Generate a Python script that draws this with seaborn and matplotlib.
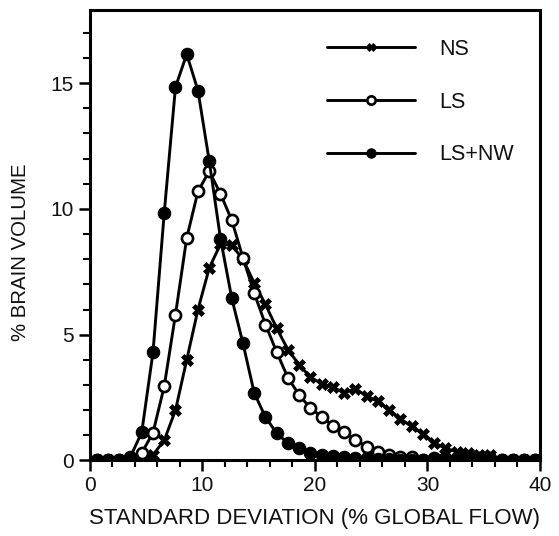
import numpy as np
import pandas as pd
import seaborn as sns
import matplotlib.pyplot as plt
from matplotlib.ticker import MultipleLocator

# bin centres (standard deviation, % global flow)
sd = np.arange(40) + 0.6

ns = [0, 0, 0, 0, 0.05, 0.22, 0.8, 2.0, 4.0, 6.0,
      7.65, 8.6, 8.55, 8.0, 7.05, 6.2, 5.25, 4.4, 3.8, 3.3,
      3.05, 2.9, 2.7, 2.85, 2.55, 2.35, 2.0, 1.65, 1.35, 1.05,
      0.7, 0.48, 0.35, 0.28, 0.22, 0.2, 0, 0, 0, 0]
ls = [0, 0, 0, 0.05, 0.3, 1.1, 2.95, 5.8, 8.85, 10.7,
      11.5, 10.6, 9.55, 8.05, 6.65, 5.4, 4.3, 3.28, 2.6, 2.07,
      1.74, 1.38, 1.14, 0.81, 0.55, 0.35, 0.22, 0.15, 0.15, 0.03,
      0.08, 0.08, 0.08, 0.08, 0.08, 0.08, 0, 0, 0, 0]
ls_nw = [0, 0, 0, 0.15, 1.12, 4.3, 9.85, 14.85, 16.15, 14.7,
         11.9, 8.82, 6.45, 4.65, 2.68, 1.72, 1.08, 0.68, 0.48, 0.28,
         0.22, 0.18, 0.12, 0.1, 0.08, 0.06, 0.05, 0.03, 0.02, 0,
         0, 0, 0, 0, 0, 0, 0, 0, 0, 0]

sns.set_style("ticks")
plt.rcParams["font.family"] = ["Liberation Sans", "DejaVu Sans"]

fig = plt.figure(figsize=(5.59, 5.36), dpi=100)
ax = fig.add_axes([0.161, 0.141, 0.805, 0.840])

sns.lineplot(x=sd, y=ns, ax=ax, color="black", lw=2.1, marker="X",
             markersize=8, markeredgewidth=0.5, markeredgecolor="black",
             label="NS")
sns.lineplot(x=sd, y=ls, ax=ax, color="black", lw=2.1, marker="o",
             markersize=8, markerfacecolor="white", markeredgewidth=1.9,
             markeredgecolor="black", label="LS")
sns.lineplot(x=sd, y=ls_nw, ax=ax, color="black", lw=2.1, marker="o",
             markersize=9, markerfacecolor="black", markeredgecolor="black",
             label="LS+NW")

ax.set_xlim(0, 40)
ax.set_ylim(0, 17.9)
ax.xaxis.set_major_locator(MultipleLocator(10))
ax.xaxis.set_minor_locator(MultipleLocator(2))
ax.yaxis.set_major_locator(MultipleLocator(5))
ax.yaxis.set_minor_locator(MultipleLocator(1))
ax.tick_params(which="major", direction="out", length=8, width=1.8,
               labelsize=15, color="black", labelcolor="#111111")
ax.tick_params(which="minor", direction="out", length=5, width=1.5,
               color="black")
for s in ax.spines.values():
    s.set_linewidth(2.2)
    s.set_color("black")

ax.set_xlabel("STANDARD DEVIATION (% GLOBAL FLOW)", fontsize=16,
              color="#111111")
ax.set_ylabel("% BRAIN VOLUME", fontsize=14.7, color="#111111")
ax.xaxis.set_label_coords(0.5, -0.105)
ax.yaxis.set_label_coords(-0.133, 0.463)

leg = ax.legend(loc="upper left", bbox_to_anchor=(0.484, 0.979), frameon=False,
                fontsize=15.5, handlelength=4.1, labelspacing=1.47,
                handletextpad=1.1, markerscale=0.75)
for t in leg.get_texts():
    t.set_color("#111111")

fig.savefig("out.png", dpi=100)
